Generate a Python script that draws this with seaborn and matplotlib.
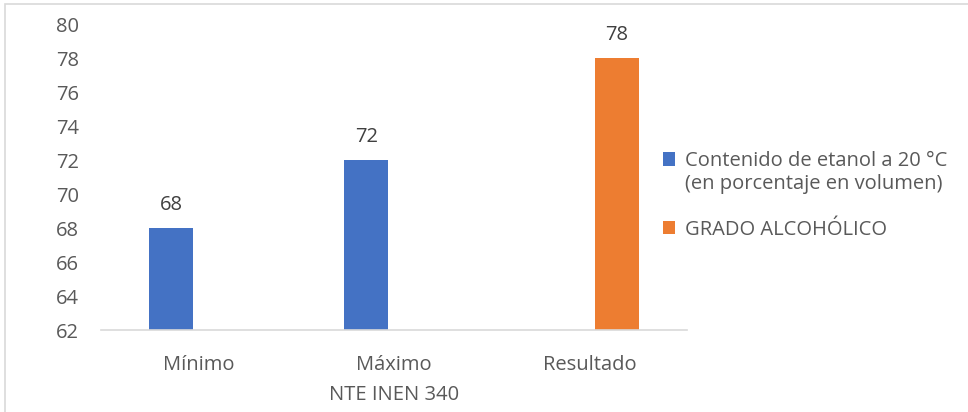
import matplotlib
matplotlib.use("Agg")
import matplotlib.pyplot as plt
import seaborn as sns
import pandas as pd
from matplotlib.patches import Rectangle
from matplotlib.legend_handler import HandlerPatch

categories = ["Mínimo", "Máximo", "Resultado"]
series_names = ["Contenido de etanol a 20 °C\n(en porcentaje en volumen)", "GRADO ALCOHÓLICO"]
series_of_bar = [series_names[0], series_names[0], series_names[1]]
values = [68, 72, 78]
y_ticks = [62, 64, 66, 68, 70, 72, 74, 76, 78, 80]
x_title = "NTE INEN 340"
colors = ["#4472C4", "#ED7D31"]

df = pd.DataFrame({"cat": categories, "serie": series_of_bar, "valor": values})

sns.set_theme(style="white")
plt.rcParams["font.family"] = ["Open Sans", "DejaVu Sans"]
fs = 14.5

fig = plt.figure(figsize=(9.68, 4.12), dpi=100)
ax = fig.add_axes([101 / 968, 1 - 330 / 412, (687 - 101) / 968, (330 - 24) / 412])

sns.barplot(data=df, x="cat", y="valor", hue="serie", hue_order=series_names,
            order=categories, palette=colors, width=0.567, gap=0.206,
            dodge=True, ax=ax, legend=True, saturation=1, linewidth=0)

text_col = "#595959"
ax.set_ylim(62, 80)
ax.set_yticks(y_ticks)
ax.set_xlim(-0.5, 2.5)
ax.tick_params(axis="both", length=0, labelsize=fs, colors=text_col)
ax.tick_params(axis="x", pad=18)
ax.tick_params(axis="y", pad=16)
ax.set_ylabel("")
ax.set_xlabel(x_title, fontsize=fs, color=text_col, labelpad=7)
for s in ["left", "right", "top"]:
    ax.spines[s].set_visible(False)
ax.spines["bottom"].set_color("#d9d9d9")
ax.spines["bottom"].set_linewidth(1.2)

for cont in ax.containers:
    ax.bar_label(cont, fmt="%g", padding=9, fontsize=fs, color="#404040")


class TopAlignedSquare(HandlerPatch):
    """Square legend key that sits level with the first line of its label."""

    def __init__(self, n_lines):
        super().__init__()
        self.n_lines = n_lines

    def create_artists(self, legend, orig_handle, xdescent, ydescent,
                       width, height, fontsize, trans):
        shift = (self.n_lines - 1) * 0.68 * fontsize
        p = Rectangle((-xdescent, -ydescent + shift), width, height,
                      facecolor=orig_handle.get_facecolor(), edgecolor="none",
                      transform=trans)
        return [p]


handles, labels = ax.get_legend_handles_labels()
hmap = {h: TopAlignedSquare(lab.count("\n") + 1) for h, lab in zip(handles, labels)}
leg = ax.legend(handles, labels, handler_map=hmap,
                loc="center left", bbox_to_anchor=(0.959, 0.44), frameon=False,
                fontsize=fs, handlelength=0.62, handleheight=0.62,
                handletextpad=0.45, labelspacing=1.3, borderpad=0,
                borderaxespad=0)
for t in leg.get_texts():
    t.set_color(text_col)

fig.patches.append(Rectangle((5 / 968, -0.1), 1.2, 1 - 4 / 412 + 0.1,
                             transform=fig.transFigure, fill=False,
                             edgecolor="#d9d9d9", linewidth=1.2))

fig.savefig("out.png", dpi=100)
